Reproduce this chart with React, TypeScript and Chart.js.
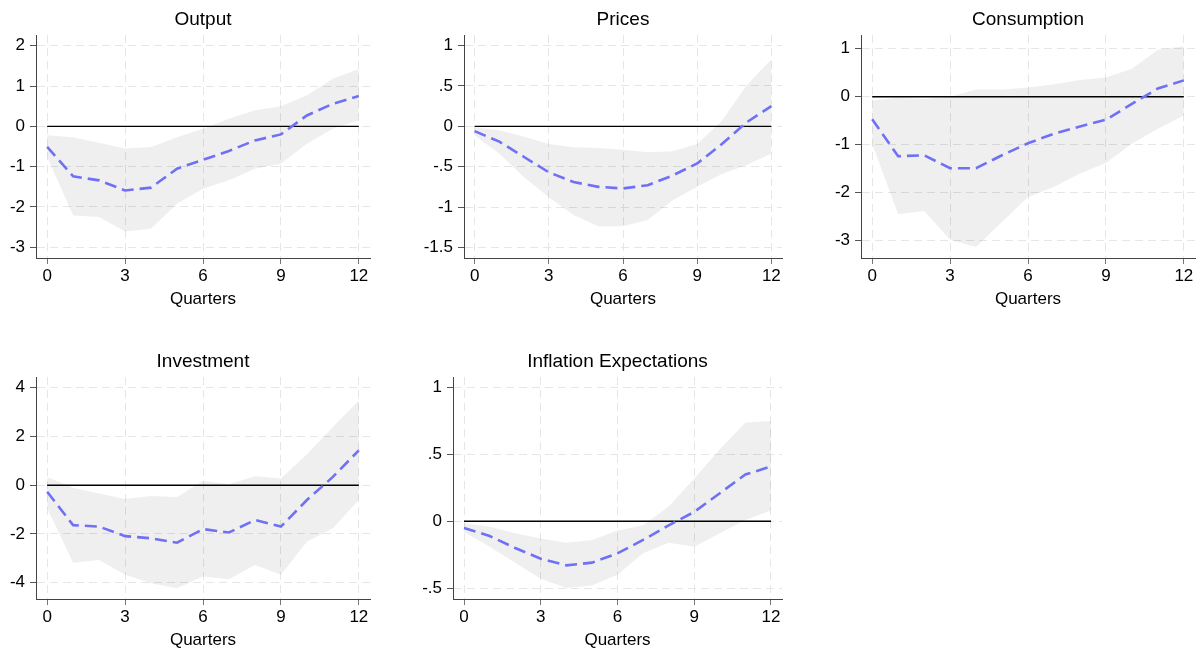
import React, { useEffect, useRef } from "react";
import { Chart, registerables } from "chart.js";

Chart.register(...registerables);

// ---------- data ----------
const quarters = [0, 1, 2, 3, 4, 5, 6, 7, 8, 9, 10, 11, 12];
const xTickValues = [0, 3, 6, 9, 12];
const zeroLevel = 0;

const outputMean = [-0.51, -1.24, -1.34, -1.59, -1.52, -1.05, -0.83, -0.61, -0.35, -0.2, 0.27, 0.56, 0.75];
const outputUpper = [-0.22, -0.27, -0.41, -0.55, -0.51, -0.27, -0.06, 0.19, 0.4, 0.5, 0.77, 1.18, 1.42];
const outputLower = [-0.76, -2.21, -2.25, -2.61, -2.54, -1.92, -1.55, -1.34, -1.05, -0.93, -0.43, -0.06, 0.15];
const outputTicks = [-3, -2, -1, 0, 1, 2];

const pricesMean = [-0.06, -0.19, -0.38, -0.57, -0.69, -0.75, -0.77, -0.73, -0.61, -0.46, -0.22, 0.05, 0.25];
const pricesUpper = [-0.01, -0.05, -0.13, -0.22, -0.26, -0.27, -0.29, -0.32, -0.31, -0.22, 0.07, 0.51, 0.83];
const pricesLower = [-0.11, -0.34, -0.63, -0.88, -1.1, -1.24, -1.24, -1.16, -0.92, -0.75, -0.59, -0.48, -0.34];
const pricesTicks = [-1.5, -1, -0.5, 0, 0.5, 1];

const consumptionMean = [-0.47, -1.24, -1.22, -1.49, -1.49, -1.22, -0.97, -0.77, -0.62, -0.48, -0.15, 0.17, 0.34];
const consumptionUpper = [-0.08, -0.02, -0.05, 0.0, 0.15, 0.15, 0.19, 0.26, 0.35, 0.4, 0.58, 0.98, 1.05];
const consumptionLower = [-0.98, -2.45, -2.38, -2.98, -3.13, -2.61, -2.09, -1.88, -1.6, -1.38, -0.98, -0.67, -0.39];
const consumptionTicks = [-3, -2, -1, 0, 1];

const investmentMean = [-0.27, -1.64, -1.7, -2.09, -2.18, -2.36, -1.8, -1.94, -1.43, -1.7, -0.61, 0.34, 1.43];
const investmentUpper = [0.34, -0.1, -0.34, -0.57, -0.44, -0.48, 0.18, 0.04, 0.37, 0.27, 1.27, 2.39, 3.48];
const investmentLower = [-0.95, -3.18, -3.07, -3.68, -4.02, -4.23, -3.75, -3.86, -3.27, -3.68, -2.32, -1.77, -0.61];
const investmentTicks = [-4, -2, 0, 2, 4];

const inflationMean = [-0.05, -0.11, -0.2, -0.28, -0.33, -0.31, -0.24, -0.14, -0.03, 0.07, 0.21, 0.35, 0.41];
const inflationUpper = [-0.015, -0.04, -0.09, -0.13, -0.16, -0.14, -0.07, -0.03, 0.11, 0.32, 0.54, 0.74, 0.75];
const inflationLower = [-0.08, -0.19, -0.31, -0.43, -0.5, -0.48, -0.4, -0.24, -0.16, -0.19, -0.09, 0.01, 0.08];
const inflationTicks = [-0.5, 0, 0.5, 1];

// ---------- layout / style ----------
const FONT = "'Liberation Sans', Arial, Helvetica, sans-serif";
const YW = 48; // forced y-axis width
const TH = 35; // title block height
const XH = 56; // forced x-axis height
const PR = 14; // right padding

const BAND = "rgba(0,0,0,0.062)";
const GRID = "#e6e6e6";
const AXIS = "#444444";
const LINE = "#7070f5";

type Panel = {
  title: string;
  mean: number[];
  upper: number[];
  lower: number[];
  ticks: number[];
  yMin: number;
  yMax: number;
  area: { l: number; t: number; r: number; b: number };
};

const panels: Panel[] = [
  { title: "Output", mean: outputMean, upper: outputUpper, lower: outputLower, ticks: outputTicks, yMin: -3.265, yMax: 2.265, area: { l: 36, t: 35, r: 370, b: 258 } },
  { title: "Prices", mean: pricesMean, upper: pricesUpper, lower: pricesLower, ticks: pricesTicks, yMin: -1.632, yMax: 1.132, area: { l: 464, t: 35, r: 782, b: 258 } },
  { title: "Consumption", mean: consumptionMean, upper: consumptionUpper, lower: consumptionLower, ticks: consumptionTicks, yMin: -3.36, yMax: 1.285, area: { l: 861, t: 35, r: 1195, b: 258 } },
  { title: "Investment", mean: investmentMean, upper: investmentUpper, lower: investmentLower, ticks: investmentTicks, yMin: -4.67, yMax: 4.44, area: { l: 36, t: 377, r: 370, b: 599 } },
  { title: "Inflation Expectations", mean: inflationMean, upper: inflationUpper, lower: inflationLower, ticks: inflationTicks, yMin: -0.582, yMax: 1.08, area: { l: 453, t: 377, r: 782, b: 599 } },
];

function fmt(v: number): string {
  if (v === 0) return "0";
  let s = String(v);
  s = s.replace(/^(-?)0\./, "$1.");
  return s;
}

function toPts(ys: number[]) {
  return quarters.map((q, i) => ({ x: q, y: ys[i] }));
}

function PanelChart({ p }: { p: Panel }) {
  const ref = useRef<HTMLCanvasElement | null>(null);
  const W = YW + (p.area.r - p.area.l) + PR;
  const H = TH + (p.area.b - p.area.t) + XH;

  useEffect(() => {
    if (!ref.current) return;
    const chart = new Chart(ref.current, {
      type: "line",
      data: {
        datasets: [
          { label: "upper", data: toPts(p.upper), fill: "+1", backgroundColor: BAND, borderWidth: 0, pointRadius: 0, order: 2 },
          { label: "lower", data: toPts(p.lower), fill: false, borderWidth: 0, pointRadius: 0, order: 2 },
          {
            label: "zero",
            data: [quarters[0], quarters[quarters.length - 1]].map((q) => ({ x: q, y: zeroLevel })),
            borderColor: "#000000",
            borderWidth: 1.4,
            pointRadius: 0,
            fill: false,
            order: 1,
          },
          { label: "irf", data: toPts(p.mean), borderColor: LINE, borderWidth: 2.6, borderDash: [12, 6], pointRadius: 0, fill: false, order: 0 },
        ],
      },
      options: {
        responsive: false,
        animation: false,
        events: [],
        layout: { padding: { left: 0, top: 0, bottom: 0, right: PR } },
        plugins: {
          legend: { display: false },
          tooltip: { enabled: false },
          title: {
            display: true,
            fullSize: false,
            text: p.title,
            color: "#000",
            font: { family: FONT, size: 19, weight: "normal" as any },
            padding: { top: 8.1, bottom: TH - 22.8 - 8.1 },
          },
        },
        scales: {
          x: {
            type: "linear",
            min: -0.43,
            max: 12.43,
            afterBuildTicks: (s: any) => {
              s.ticks = xTickValues.map((v) => ({ value: v }));
            },
            afterFit: (s: any) => {
              s.height = XH;
            },
            ticks: { color: "#000", font: { family: FONT, size: 17 }, padding: 2, autoSkip: false, maxRotation: 0 },
            grid: { color: GRID, lineWidth: 1, tickLength: 6, tickColor: "#777", tickWidth: 1, tickBorderDash: [] },
            border: { display: true, color: AXIS, width: 1, dash: [8, 5] },
            title: { display: true, text: "Quarters", color: "#000", font: { family: FONT, size: 17 }, padding: { top: 0, bottom: 4 } },
          },
          y: {
            type: "linear",
            min: p.yMin,
            max: p.yMax,
            afterBuildTicks: (s: any) => {
              s.ticks = p.ticks.map((v) => ({ value: v }));
            },
            afterFit: (s: any) => {
              s.width = YW;
            },
            ticks: { color: "#000", font: { family: FONT, size: 17 }, padding: 5, autoSkip: false, callback: (v: any) => fmt(Number(v)) },
            grid: { color: GRID, lineWidth: 1, tickLength: 6, tickColor: "#555", tickWidth: 1, tickBorderDash: [] },
            border: { display: true, color: AXIS, width: 1, dash: [8, 5] },
          },
        },
      } as any,
    });
    return () => chart.destroy();
  }, []);

  return (
    <canvas
      ref={ref}
      width={W}
      height={H}
      style={{ position: "absolute", left: p.area.l - YW, top: p.area.t - TH, width: W, height: H }}
    />
  );
}

export default function App() {
  return (
    <div style={{ position: "absolute", left: 0, top: 0, width: 1196, height: 650, overflow: "hidden", background: "#fff" }}>
      {panels.map((p) => (
        <PanelChart key={p.title} p={p} />
      ))}
    </div>
  );
}
